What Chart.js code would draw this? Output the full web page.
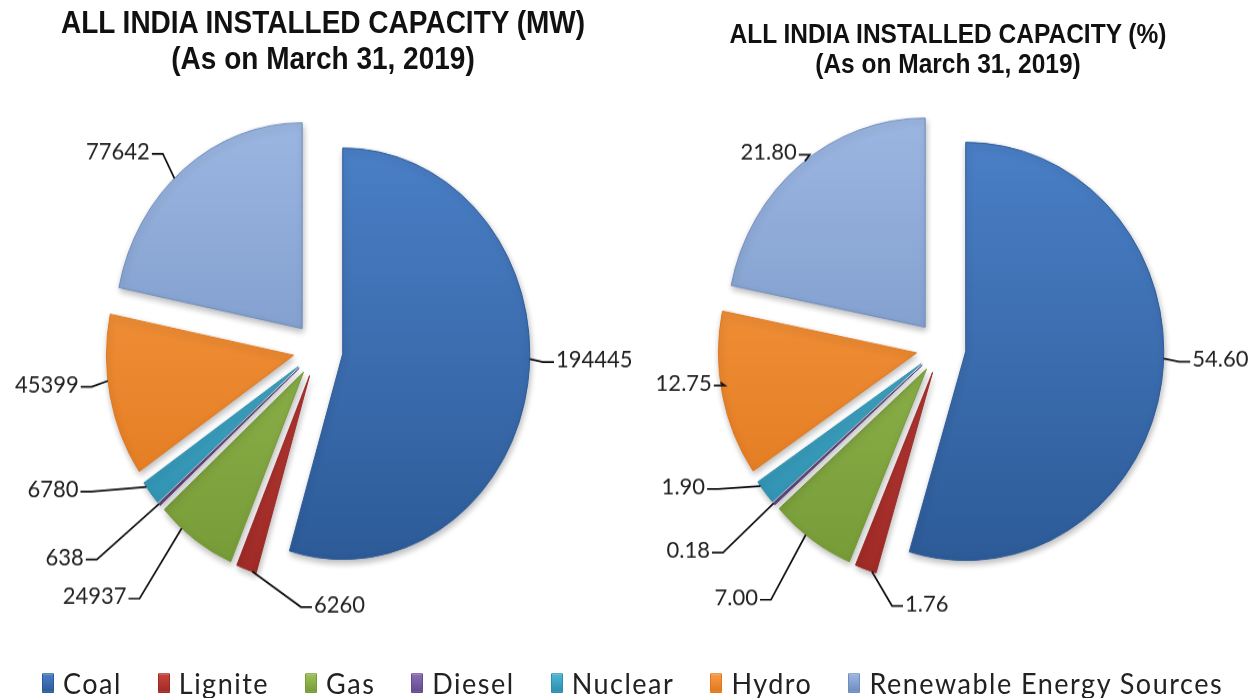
<!DOCTYPE html>
<html>
<head>
<meta charset="utf-8">
<script src="https://cdn.jsdelivr.net/npm/chart.js@4/dist/chart.umd.min.js"></script>
<style>
    html, body { margin: 0; padding: 0; background: #fff; overflow: hidden; width: 1255px; height: 698px; }
    #page {
        position: relative;
        width: 1255px;
        height: 635px;
        transform: scaleY(1.1);
        transform-origin: 0 0;
    }
    .title {
        position: absolute;
        text-align: center;
        font-family: "Liberation Sans", Arial, sans-serif;
        font-weight: bold;
        color: #111;
    }
    #titleLeft { left: 0; top: 4px; width: 646px; font-size: 28px; line-height: 33px; }
    #titleRight { left: 641px; top: 18px; width: 614px; font-size: 24.5px; line-height: 26.5px; }
    canvas { position: absolute; }
    #pctChart { transform: scaleY(0.96); transform-origin: 50% 245px; }
    #legend {
        position: absolute;
        left: 10px;
        width: 1245px;
        top: 606px;
        display: flex;
        justify-content: center;
        gap: 36px;
        font-family: Lato, "Open Sans", sans-serif;
        font-size: 27px;
        letter-spacing: 1.5px;
        line-height: 30px;
        color: #222;
    }
    .legend-item { display: flex; align-items: center; gap: 9px; }
    .legend-box { width: 10px; height: 16px; border-radius: 1px; }
</style>
</head>
<body>
<div id="page">
    <div class="title" id="titleLeft">ALL INDIA INSTALLED CAPACITY (MW)<br>(As on March 31, 2019)</div>
    <div class="title" id="titleRight">ALL INDIA INSTALLED CAPACITY (%)<br>(As on March 31, 2019)</div>
    <canvas id="mwChart" width="640" height="520" style="left:0;top:73px;"></canvas>
    <canvas id="pctChart" width="615" height="520" style="left:640px;top:71px;"></canvas>
    <div id="legend"></div>
</div>

<script>
// ==================== DATA ====================

const categories = ['Coal', 'Lignite', 'Gas', 'Diesel', 'Nuclear', 'Hydro', 'Renewable Energy Sources'];
const capacityMW = [194445, 6260, 24937, 638, 6780, 45399, 77642];
const capacityPct = ['54.60', '1.76', '7.00', '0.18', '1.90', '12.75', '21.80'];

// light (top) / dark (bottom) shades per source
const lightColors = ['#4A7FC6', '#C9433C', '#9DC257', '#8B6DB4', '#4EB7D4', '#F89B47', '#9BB6E1'];
const darkColors  = ['#2D5B98', '#9F2B27', '#769A37', '#654A8E', '#2D8DAD', '#E0771B', '#6E8CBE'];

// label placement: [angle deg (clockwise from 3 o'clock), distance as share of radius, text side (1 right, -1 left)]
const mwLabelPlaces = [[2.2, 1.263, 1], [91.5, 1.24, 1], [130.2, 1.57, -1], [140.9, 1.60, -1],
    [151.9, 1.44, -1], [172.4, 1.28, -1], [227.3, 1.31, -1]];
const pctLabelPlaces = [[2.6, 1.26, 1], [98.9, 1.24, 1], [127.4, 1.505, -1], [140, 1.51, -1],
    [150.6, 1.356, -1], [171.5, 1.16, -1], [232.4, 1.177, -1]];

// ==================== PLUGINS ====================

// Draw every slice pulled out from the centre (exploded pie)
const explodePlugin = {
    id: 'explode',
    beforeDatasetDraw(chart, args, opts) {
        const ctx = chart.ctx;
        args.meta.data.forEach(arc => {
            const mid = (arc.startAngle + arc.endAngle) / 2;
            ctx.save();
            ctx.translate(Math.cos(mid) * opts.distance, Math.sin(mid) * opts.distance);
            ctx.shadowColor = 'rgba(0, 0, 0, 0.28)';
            ctx.shadowBlur = 6;
            ctx.shadowOffsetX = 1;
            ctx.shadowOffsetY = 3;
            arc.draw(ctx);
            ctx.restore();
        });
        return false;
    }
};

// Value labels with leader lines
const leaderLabelPlugin = {
    id: 'leaderLabels',
    afterDatasetsDraw(chart, args, opts) {
        const ctx = chart.ctx;
        const meta = chart.getDatasetMeta(0);
        const dist = chart.options.plugins.explode.distance;
        ctx.save();
        ctx.font = '22px Lato, "Open Sans", sans-serif';
        ctx.fillStyle = '#222';
        ctx.strokeStyle = '#111';
        ctx.lineWidth = 1.7;
        ctx.textBaseline = 'middle';
        meta.data.forEach((arc, i) => {
            const start = arc.startAngle, end = arc.endAngle;
            const r = arc.outerRadius;
            const mid = (start + end) / 2;
            const ax = arc.x + Math.cos(mid) * dist;
            const ay = arc.y + Math.sin(mid) * dist;

            const place = opts.places[i];
            const la = place[0] * Math.PI / 180;
            const lx = arc.x + Math.cos(la) * place[1] * r;
            const ly = arc.y + Math.sin(la) * place[1] * r;
            const right = place[2] > 0;

            // point on the slice edge facing the label
            let a = Math.atan2(ly - ay, lx - ax);
            while (a < start) a += Math.PI * 2;
            const span = end - start;
            const lo = start + span * 0.2, hi = end - span * 0.2;
            if (a > end) {
                a = (a - end < start + Math.PI * 2 - a) ? hi : lo;
            } else {
                a = Math.min(Math.max(a, lo), hi);
            }
            const ex = ax + Math.cos(a) * r;
            const ey = ay + Math.sin(a) * r;

            const elbowX = lx + (right ? -11 : 11);

            ctx.beginPath();
            ctx.moveTo(ex, ey);
            ctx.lineTo(elbowX, ly + 2);
            ctx.lineTo(lx, ly + 2);
            ctx.stroke();

            ctx.textAlign = right ? 'left' : 'right';
            ctx.fillText(opts.texts[i], lx + (right ? 2 : -2), ly);
        });
        ctx.restore();
    }
};

// ==================== CHARTS ====================

function sliceGradient(context) {
    const chart = context.chart;
    const i = context.dataIndex;
    const area = chart.chartArea;
    if (!area) return lightColors[i];
    const cy = (area.top + area.bottom) / 2;
    const r = chart.options.radius;
    const g = chart.ctx.createLinearGradient(0, cy - r, 0, cy + r);
    g.addColorStop(0, lightColors[i]);
    g.addColorStop(1, darkColors[i]);
    return g;
}

function createPie(canvasId, values, texts, places, radius, padding) {
    const ctx = document.getElementById(canvasId).getContext('2d');
    return new Chart(ctx, {
        type: 'pie',
        data: {
            labels: categories,
            datasets: [{
                data: values,
                backgroundColor: sliceGradient,
                borderColor: darkColors,
                borderWidth: 1
            }]
        },
        options: {
            responsive: false,
            animation: false,
            events: [],
            radius: radius,
            layout: { padding: padding },
            plugins: {
                legend: { display: false },
                tooltip: { enabled: false },
                explode: { distance: 25 },
                leaderLabels: { texts: texts, places: places }
            }
        },
        plugins: [explodePlugin, leaderLabelPlugin]
    });
}

createPie('mwChart', capacityMW, capacityMW.map(String), mwLabelPlaces, 187,
    { left: 0, right: 4, top: 0, bottom: 30 });
createPie('pctChart', capacityPct.map(Number), capacityPct, pctLabelPlaces, 198,
    { left: 0, right: 13, top: 0, bottom: 30 });

// Shared legend under both pies
const legendBox = document.getElementById('legend');
categories.forEach((name, i) => {
    const item = document.createElement('div');
    item.className = 'legend-item';
    item.innerHTML = '<span class="legend-box" style="background:linear-gradient(' +
        lightColors[i] + ',' + darkColors[i] + ');border:1px solid ' + darkColors[i] + '"></span>' +
        '<span>' + name + '</span>';
    legendBox.appendChild(item);
});
</script>
</body>
</html>
